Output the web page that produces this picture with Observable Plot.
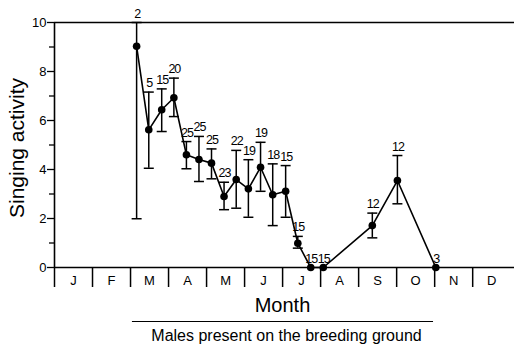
<!DOCTYPE html>
<html>
<head>
<meta charset="utf-8">
<script src="https://cdn.jsdelivr.net/npm/d3@7"></script>
<script src="https://cdn.jsdelivr.net/npm/@observablehq/plot@0.6"></script>
<style>
  html, body { margin: 0; padding: 0; background: white; }
  g[font-variant="normal"] text { letter-spacing: -1px; }
</style>
</head>
<body>
<div id="chart"></div>
<script>
const months = ["J","F","M","A","M","J","J","A","S","O","N","D"];
const periodMonth = [2.16, 2.48, 2.82, 3.14, 3.47, 3.80, 4.13, 4.46, 4.78, 5.10, 5.42, 5.74, 6.08, 6.40, 6.74, 7.07, 8.36, 9.02, 10.03];
const activity = [9.03, 5.62, 6.44, 6.93, 4.60, 4.41, 4.26, 2.90, 3.59, 3.21, 4.09, 2.97, 3.11, 0.99, 0, 0, 1.71, 3.55, 0];
const errLow  = [1.99, 4.05, 5.55, 6.16, 4.03, 3.51, 3.62, 2.36, 2.42, 2.05, 3.11, 1.71, 2.05, 0.79, null, null, 1.21, 2.60, null];
const errHigh = [10, 7.16, 7.29, 7.73, 5.14, 5.35, 4.84, 3.48, 4.78, 4.40, 5.11, 4.23, 4.16, 1.27, null, null, 2.22, 4.57, null];
const sampleN = [2, 5, 15, 20, 25, 25, 25, 23, 22, 19, 19, 18, 15, 15, 15, 15, 12, 12, 3];
const malesPresent = [2.05, 9.97];
const yTicks = [0, 2, 4, 6, 8, 10];
const yMinorTicks = [1, 3, 5, 7, 9];

const data = periodMonth.map((x, i) => ({x, y: activity[i], lo: errLow[i], hi: errHigh[i], n: sampleN[i]}));
const errData = data.filter(d => d.lo != null);

const capSymbol = {
  draw(context, size) {
    const w = Math.sqrt(size / Math.PI);
    context.moveTo(-w, 0);
    context.lineTo(w, 0);
  }
};

const chart = Plot.plot({
  width: 514,
  height: 349,
  marginLeft: 54,
  marginRight: 0,
  marginTop: 22,
  marginBottom: 82,
  x: {domain: [0, 12.1], axis: null},
  y: {domain: [0, 10], axis: null},
  style: {fontFamily: "'Liberation Sans', Arial, sans-serif", background: "white", color: "black"},
  marks: [
    Plot.ruleY([0, 10], {stroke: "black", strokeWidth: 1.7}),
    Plot.ruleX([0], {stroke: "black", strokeWidth: 1.6}),
    Plot.axisX({ticks: d3.range(0, 12), tickSize: 20, tickFormat: () => "", label: null, strokeWidth: 1.5}),
    Plot.axisY({ticks: yTicks, tickSize: 7, tickPadding: 1, fontSize: 13, label: null, strokeWidth: 1.3}),
    Plot.axisY({ticks: yMinorTicks, tickSize: 5, tickFormat: () => "", label: null, strokeWidth: 1.3}),
    Plot.text(months, {x: (d, i) => i + 0.5, y: 0, dy: 13, fontSize: 13, lineAnchor: "middle"}),
    Plot.ruleX(errData, {x: "x", y1: "lo", y2: "hi", stroke: "black", strokeWidth: 1.5}),
    Plot.dot(errData, {x: "x", y: "lo", symbol: capSymbol, r: 5, stroke: "black", strokeWidth: 1.5}),
    Plot.dot(errData, {x: "x", y: "hi", symbol: capSymbol, r: 5, stroke: "black", strokeWidth: 1.5}),
    Plot.line(data, {x: "x", y: "y", stroke: "black", strokeWidth: 1.6}),
    Plot.dot(data, {x: "x", y: "y", r: 3.8, fill: "black", stroke: null}),
    Plot.text(data, {x: "x", y: d => d.hi ?? d.y, text: d => String(d.n), dy: -9, dx: 0.5, fontSize: 12.5, lineAnchor: "middle",
      fontVariant: "normal", fontFamily: "'Liberation Sans', Arial, sans-serif"}),
    Plot.text(["Month"], {frameAnchor: "bottom", lineAnchor: "middle", textAnchor: "middle", dx: -2, dy: 38, fontSize: 20}),
    Plot.ruleY([0], {x1: malesPresent[0], x2: malesPresent[1], dy: 54, stroke: "black", strokeWidth: 1.2}),
    Plot.text(["Males present on the breeding ground"], {frameAnchor: "bottom", lineAnchor: "middle", textAnchor: "middle", dx: 2, dy: 68, fontSize: 16}),
    Plot.text(["Singing activity"], {frameAnchor: "left", rotate: -90, textAnchor: "middle", lineAnchor: "middle", dx: -37, dy: 3, fontSize: 21})
  ]
});
document.getElementById("chart").appendChild(chart);
</script>
</body>
</html>
